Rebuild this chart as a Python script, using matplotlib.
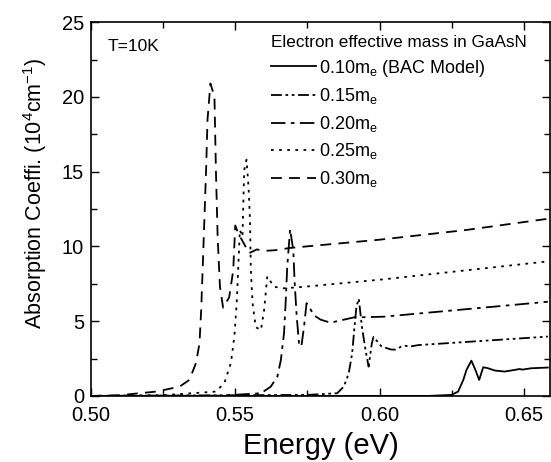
import matplotlib
matplotlib.use('Agg')
from matplotlib import pyplot as plt

plt.rcParams['font.family'] = ['Liberation Sans', 'DejaVu Sans']
plt.rcParams['mathtext.default'] = 'regular'

e010 = [0.500, 0.6169, 0.6249, 0.6272, 0.6290, 0.6301, 0.6318, 0.6332, 0.6345,
        0.6359, 0.6376, 0.6399, 0.6433, 0.6468, 0.6485, 0.6495, 0.6525, 0.6583]
a010 = [0.0, 0.0, 0.07, 0.29, 1.07, 1.74, 2.36, 1.74, 1.07, 1.92, 1.85, 1.7,
        1.63, 1.74, 1.8, 1.76, 1.85, 1.9]

e015 = [0.500, 0.575, 0.5853, 0.5876, 0.5893, 0.5905, 0.5913, 0.5920, 0.5928,
        0.5939, 0.5951, 0.5962, 0.5973, 0.5979, 0.6007, 0.6041, 0.6055, 0.6075,
        0.6090, 0.6105, 0.6134, 0.6583]
a015 = [0.0, 0.07, 0.18, 0.62, 1.5, 2.85, 4.6, 6.0, 6.5, 4.6, 3.1, 1.96, 3.5,
        3.95, 3.3, 3.1, 3.1, 3.3, 3.35, 3.3, 3.4, 3.97]

e020 = [0.500, 0.545, 0.5589, 0.5623, 0.5646, 0.5658, 0.5669, 0.5675, 0.5680,
        0.5690, 0.5701, 0.5706, 0.5713, 0.5721, 0.5729, 0.5738, 0.5747, 0.5755,
        0.5772, 0.5796, 0.5830, 0.5876, 0.5910, 0.6014, 0.6583]
a020 = [0.0, 0.02, 0.18, 0.62, 1.3, 2.4, 4.2, 6.4, 8.6, 11.15, 9.75, 7.5, 5.3,
        3.5, 3.3, 4.6, 6.2, 6.0, 5.4, 5.1, 4.9, 5.1, 5.25, 5.3, 6.3]

e025 = [0.500, 0.525, 0.5433, 0.5462, 0.5485, 0.5497, 0.5505, 0.5512, 0.5516,
        0.5525, 0.5528, 0.5531, 0.5539, 0.5546, 0.5551, 0.5554, 0.5560, 0.5571,
        0.5589, 0.5600, 0.5611, 0.5634, 0.5669, 0.5738, 0.6014, 0.6583]
a025 = [0.0, 0.05, 0.29, 0.86, 2.2, 4.0, 6.2, 9.3, 11.1, 10.65, 12.9, 15.1, 15.8,
        14.0, 11.8, 8.4, 6.2, 4.6, 4.4, 5.75, 8.0, 7.3, 7.2, 7.3, 7.8, 9.0]

e030 = [0.500, 0.510, 0.5226, 0.5307, 0.5341, 0.5364, 0.5376, 0.5382, 0.5387,
        0.5393, 0.5399, 0.5404, 0.5414, 0.5428, 0.5433, 0.5439, 0.5447, 0.5458,
        0.5479, 0.5493, 0.5500, 0.5510, 0.5548, 0.5575, 0.5600, 0.5640, 0.5690,
        0.6000, 0.6300, 0.6583]
a030 = [0.0, 0.05, 0.29, 0.62, 1.07, 2.2, 3.5, 5.75, 8.4, 11.8, 15.1, 18.5, 20.9,
        20.0, 15.1, 10.65, 7.3, 5.9, 6.6, 8.4, 11.4, 10.9, 9.55, 9.8, 9.7, 9.75,
        9.9, 10.45, 11.1, 11.85]

fig = plt.figure(figsize=(5.51, 4.62), dpi=100)
ax = fig.add_axes([0.165, 0.143, 0.833, 0.809])

lw = 1.3
ax.plot(e010, a010, color='k', lw=lw, ls='-', label=r'0.10m$_e$ (BAC Model)')
ax.plot(e015, a015, color='k', lw=lw, ls=(0, (6, 2, 1.5, 2, 1.5, 2)), label=r'0.15m$_e$')
ax.plot(e020, a020, color='k', lw=lw, ls=(0, (8, 3, 2, 3)), label=r'0.20m$_e$')
ax.plot(e025, a025, color='k', lw=lw, ls=(0, (1.5, 3)), label=r'0.25m$_e$')
ax.plot(e030, a030, color='k', lw=lw, ls=(0, (6, 4)), label=r'0.30m$_e$')

ax.set_xlim(0.5, 0.659)
ax.set_ylim(0, 25)
ax.set_xticks([0.50, 0.55, 0.60, 0.65])
ax.set_xticklabels(['0.50', '0.55', '0.60', '0.65'])
ax.set_yticks([0, 5, 10, 15, 20, 25])
ax.xaxis.set_minor_locator(plt.MultipleLocator(0.025))
ax.yaxis.set_minor_locator(plt.MultipleLocator(2.5))
ax.tick_params(which='both', direction='in', top=True, right=True, labelsize=14.5)
ax.tick_params(which='major', length=6, width=1)
ax.tick_params(which='minor', length=4, width=1)
ax.tick_params(axis='x', pad=7)
ax.tick_params(axis='y', pad=5)
for s in ax.spines.values():
    s.set_linewidth(1.2)

ax.set_xlabel('Energy (eV)', fontsize=21, labelpad=5)
ax.set_ylabel(r'Absorption Coeffi. (10$^4$cm$^{-1}$)', fontsize=15.5)
ax.yaxis.set_label_coords(-0.092, 0.543)

ax.text(0.037, 0.935, 'T=10K', transform=ax.transAxes, fontsize=12.5, va='center')

leg = ax.legend(loc='upper left', bbox_to_anchor=(0.385, 0.975), frameon=False,
                fontsize=13, title='Electron effective mass in GaAsN',
                title_fontsize=12.3, handlelength=2.5, handletextpad=0.15,
                labelspacing=0.42, borderaxespad=0, borderpad=0.2)
leg._legend_box.align = 'left'

fig.savefig('out.png', dpi=100)
